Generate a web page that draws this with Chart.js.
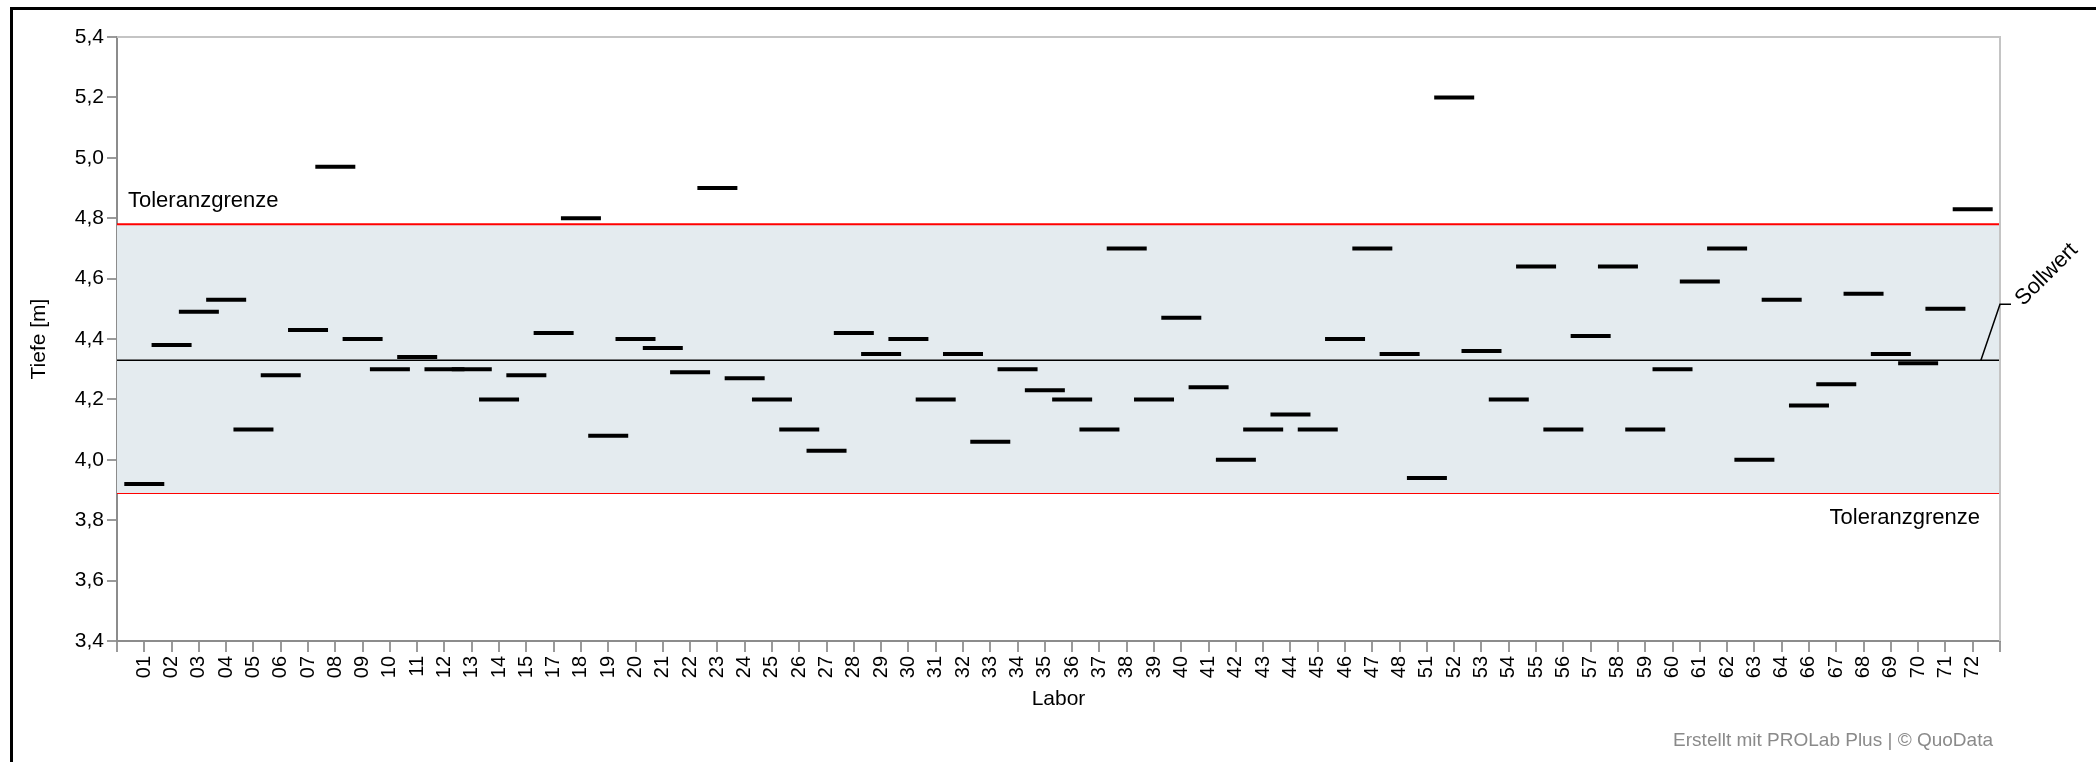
<!DOCTYPE html>
<html lang="de">
<head>
<meta charset="utf-8">
<title>Tiefe je Labor</title>
<script src="https://cdn.jsdelivr.net/npm/chart.js@4/dist/chart.umd.min.js"></script>
<style>
    html, body { margin: 0; padding: 0; background: #fff; overflow: hidden; }
    canvas { display: block; }
</style>
</head>
<body>
<canvas id="chart" width="2096" height="762"></canvas>
<script>
const labore = ['01', '02', '03', '04', '05', '06', '07', '08', '09', '10', '11', '12', '13', '14', '15',
    '17', '18', '19', '20', '21', '22', '23', '24', '25', '26', '27', '28', '29', '30', '31', '32', '33',
    '34', '35', '36', '37', '38', '39', '40', '41', '42', '43', '44', '45', '46', '47', '48',
    '51', '52', '53', '54', '55', '56', '57', '58', '59', '60', '61', '62', '63', '64',
    '66', '67', '68', '69', '70', '71', '72'];

const tiefe = [3.92, 4.38, 4.49, 4.53, 4.10, 4.28, 4.43, 4.97, 4.40, 4.30, 4.34, 4.30, 4.30, 4.20, 4.28,
    4.42, 4.80, 4.08, 4.40, 4.37, 4.29, 4.90, 4.27, 4.20, 4.10, 4.03, 4.42, 4.35, 4.40, 4.20, 4.35, 4.06,
    4.30, 4.23, 4.20, 4.10, 4.70, 4.20, 4.47, 4.24, 4.00, 4.10, 4.15, 4.10, 4.40, 4.70, 4.35,
    3.94, 5.20, 4.36, 4.20, 4.64, 4.10, 4.41, 4.64, 4.10, 4.30, 4.59, 4.70, 4.00, 4.53,
    4.18, 4.25, 4.55, 4.35, 4.32, 4.50, 4.83];

const sollwert = 4.33;
const toleranzOben = 4.78;
const toleranzUnten = 3.89;

const yTicks = [3.4, 3.6, 3.8, 4.0, 4.2, 4.4, 4.6, 4.8, 5.0, 5.2, 5.4];

const schrift = "'Liberation Sans', Arial, sans-serif";
const xMax = labore.length + 1;

function waagerecht(wert) {
    return [{ x: 0, y: wert }, { x: xMax, y: wert }];
}

const punkte = labore.map((lab, i) => ({ x: i + 1, y: tiefe[i] }));

// Beschriftungen, Rahmen und Sollwert-Hinweis
const beschriftung = {
    id: 'beschriftung',
    afterDraw(chart) {
        const { ctx, chartArea, scales } = chart;
        const y = scales.y;
        const x = scales.x;
        ctx.save();

        ctx.strokeStyle = '#c4c4c4';
        ctx.lineWidth = 2;
        ctx.beginPath();
        ctx.moveTo(chartArea.left, chartArea.top);
        ctx.lineTo(chartArea.right, chartArea.top);
        ctx.lineTo(chartArea.right, chartArea.bottom);
        ctx.stroke();

        ctx.fillStyle = '#000';
        ctx.fillRect(10, 7, chart.width, 3);
        ctx.fillRect(10, 7, 3, chart.height);

        ctx.font = '22px ' + schrift;
        ctx.textBaseline = 'alphabetic';
        ctx.textAlign = 'left';
        ctx.fillText('Toleranzgrenze', chartArea.left + 11, y.getPixelForValue(toleranzOben) - 17);
        ctx.textAlign = 'right';
        ctx.fillText('Toleranzgrenze', chartArea.right - 20, y.getPixelForValue(toleranzUnten) + 31);

        const sy = y.getPixelForValue(sollwert);
        ctx.strokeStyle = '#000';
        ctx.lineWidth = 1.5;
        ctx.beginPath();
        ctx.moveTo(x.getPixelForValue(xMax - 0.7), sy);
        ctx.lineTo(chartArea.right, sy - 56);
        ctx.lineTo(chartArea.right + 11, sy - 56);
        ctx.stroke();

        ctx.translate(chartArea.right + 19, sy - 58);
        ctx.rotate(-Math.PI / 4);
        ctx.textAlign = 'left';
        ctx.textBaseline = 'middle';
        ctx.fillText('Sollwert', 0, 0);
        ctx.restore();

        ctx.save();
        ctx.font = '19px ' + schrift;
        ctx.fillStyle = '#8a8a8a';
        ctx.textAlign = 'right';
        ctx.textBaseline = 'alphabetic';
        ctx.fillText('Erstellt mit PROLab Plus | \u00a9 QuoData', 1993, 746);
        ctx.restore();
    }
};

new Chart(document.getElementById('chart'), {
    data: {
        datasets: [
            {
                type: 'scatter',
                label: 'Tiefe',
                data: punkte,
                pointStyle: 'line',
                pointRadius: 20,
                pointHoverRadius: 20,
                borderWidth: 4,
                borderColor: '#000',
                order: 0,
            },
            {
                type: 'line',
                label: 'Sollwert',
                data: waagerecht(sollwert),
                borderColor: '#000',
                borderWidth: 1.5,
                pointRadius: 0,
                order: 1,
            },
            {
                type: 'line',
                label: 'Toleranzgrenze oben',
                data: waagerecht(toleranzOben),
                borderColor: '#ff0000',
                borderWidth: 2,
                pointRadius: 0,
                fill: '+1',
                backgroundColor: '#e4ebef',
                order: 2,
            },
            {
                type: 'line',
                label: 'Toleranzgrenze unten',
                data: waagerecht(toleranzUnten),
                borderColor: '#ff0000',
                borderWidth: 2,
                pointRadius: 0,
                order: 3,
            },
        ],
    },
    options: {
        responsive: false,
        devicePixelRatio: 1,
        animation: false,
        layout: { padding: { top: 37, right: 96, left: 0, bottom: 0 } },
        plugins: {
            legend: { display: false },
            tooltip: { enabled: false },
        },
        scales: {
            x: {
                type: 'linear',
                min: 0,
                max: xMax,
                afterBuildTicks: scale => {
                    scale.ticks = [0, ...labore.map((lab, i) => i + 1), xMax].map(v => ({ value: v }));
                },
                afterFit: scale => { scale.height = 121; },
                ticks: {
                    autoSkip: false,
                    minRotation: 90,
                    maxRotation: 90,
                    padding: 4,
                    color: '#000',
                    font: { family: schrift, size: 20 },
                    callback: v => labore[v - 1] || '',
                },
                grid: { drawOnChartArea: false, tickLength: 11, color: '#9a9a9a', lineWidth: 2 },
                border: { color: '#8c8c8c', width: 2 },
                title: {
                    display: true,
                    text: 'Labor',
                    color: '#000',
                    font: { family: schrift, size: 21 },
                    padding: { top: 0, bottom: 50 },
                },
            },
            y: {
                min: 3.4,
                max: 5.4,
                afterBuildTicks: scale => {
                    scale.ticks = yTicks.map(v => ({ value: v }));
                },
                afterFit: scale => { scale.width = 117; },
                ticks: {
                    padding: 3,
                    color: '#000',
                    font: { family: schrift, size: 21 },
                    callback: v => v.toFixed(1).replace('.', ','),
                },
                grid: { drawOnChartArea: false, tickLength: 10, color: '#9a9a9a', lineWidth: 2 },
                border: { color: '#8c8c8c', width: 2 },
                title: {
                    display: true,
                    text: 'Tiefe [m]',
                    color: '#000',
                    font: { family: schrift, size: 21 },
                    padding: { top: 27, bottom: 0 },
                },
            },
        },
    },
    plugins: [beschriftung],
});
</script>
</body>
</html>
